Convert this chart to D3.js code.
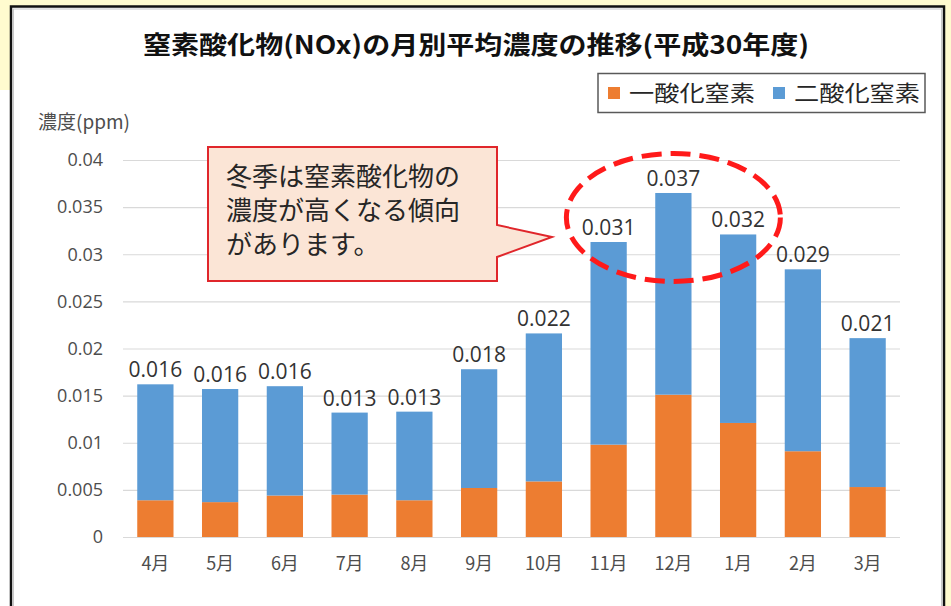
<!DOCTYPE html>
<html>
<head>
<meta charset="utf-8">
<script src="https://cdn.jsdelivr.net/npm/d3@7"></script>
<style>
body { margin: 0; background: #fff; }
text { font-family: "Noto Sans CJK JP", "Noto Sans", sans-serif; }
</style>
</head>
<body>
<svg width="951" height="606"></svg>
<script>
// data (ppm)
var months = ["4月", "5月", "6月", "7月", "8月", "9月", "10月", "11月", "12月", "1月", "2月", "3月"];
var noValues = [0.0039, 0.0037, 0.0044, 0.0045, 0.0039, 0.0052, 0.0059, 0.0098, 0.0151, 0.0121, 0.0091, 0.0053];
var no2Values = [0.0123, 0.0120, 0.0116, 0.0087, 0.0094, 0.0126, 0.0157, 0.0215, 0.0214, 0.0200, 0.0193, 0.0158];
var totalLabels = ["0.016", "0.016", "0.016", "0.013", "0.013", "0.018", "0.022", "0.031", "0.037", "0.032", "0.029", "0.021"];
var seriesNames = ["一酸化窒素", "二酸化窒素"];
var yTicks = [0, 0.005, 0.01, 0.015, 0.02, 0.025, 0.03, 0.035, 0.04];
var yTickLabels = ["0", "0.005", "0.01", "0.015", "0.02", "0.025", "0.03", "0.035", "0.04"];
var calloutLines = ["冬季は窒素酸化物の", "濃度が高くなる傾向", "があります。"];

var svg = d3.select("svg");
var colors = d3.scaleOrdinal().domain(seriesNames).range(["#ED7D31", "#5B9BD5"]);

// page frame: yellow page behind a white bordered box
svg.append("rect").attr("x", 0).attr("y", 0).attr("width", 951).attr("height", 90).attr("fill", "#fffbcf");
svg.append("rect").attr("x", 940).attr("y", 0).attr("width", 11).attr("height", 606).attr("fill", "#fffbcf");
svg.append("rect").attr("x", 11).attr("y", 6.5).attr("width", 933).attr("height", 700)
    .attr("fill", "#fff").attr("stroke", "#111").attr("stroke-width", 2.5);
svg.append("rect").attr("x", 13.5).attr("y", 9).attr("width", 928).attr("height", 700)
    .attr("fill", "none").attr("stroke", "#c8c8c8").attr("stroke-width", 1);

var margin = {top: 160, left: 123, right: 51, bottom: 69},
    width = 951 - margin.left - margin.right,
    height = 606 - margin.top - margin.bottom;
var g = svg.append("g").attr("transform", "translate(" + margin.left + "," + margin.top + ")");

var x = d3.scaleBand().domain(months).range([0, width]).paddingInner(0.44).paddingOuter(0.22);
var y = d3.scaleLinear().domain([0, 0.04]).range([height, 0]);

// title
svg.append("text")
    .attr("x", 476).attr("y", 54)
    .attr("text-anchor", "middle")
    .attr("font-size", 25).attr("font-weight", "bold").attr("fill", "#111")
    .attr("textLength", 666).attr("lengthAdjust", "spacingAndGlyphs")
    .text("窒素酸化物(NOx)の月別平均濃度の推移(平成30年度)");

// gridlines
g.append("g")
    .call(d3.axisLeft(y).tickValues(yTicks).tickSize(-width).tickFormat(""))
    .call(function(s) { s.select(".domain").remove(); })
    .selectAll("line").attr("stroke", "#d9d9d9").attr("stroke-width", 1.2);

// y axis labels
g.append("g")
    .call(d3.axisLeft(y).tickValues(yTicks).tickSize(0).tickPadding(20)
        .tickFormat(function(d, i) { return yTickLabels[i]; }))
    .call(function(s) { s.select(".domain").remove(); })
    .selectAll("text")
    .attr("font-size", 18).attr("fill", "#4d4d4d")
    .style("font-family", "'Open Sans', 'Noto Sans', sans-serif");

svg.append("text")
    .attr("x", 38).attr("y", 129)
    .attr("font-size", 19).attr("fill", "#4d4d4d")
    .text("濃度(ppm)");

// stacked bars
var rows = months.map(function(m, i) {
  var r = {month: m};
  r[seriesNames[0]] = noValues[i];
  r[seriesNames[1]] = no2Values[i];
  return r;
});
var stacked = d3.stack().keys(seriesNames)(rows);

g.append("g")
  .selectAll("g")
  .data(stacked)
  .enter().append("g")
    .attr("fill", function(d) { return colors(d.key); })
  .selectAll("rect")
  .data(function(d) { return d; })
  .enter().append("rect")
    .attr("x", function(d) { return x(d.data.month); })
    .attr("y", function(d) { return y(d[1]); })
    .attr("width", x.bandwidth())
    .attr("height", function(d) { return y(d[0]) - y(d[1]); });

// total labels
g.append("g")
  .selectAll("text")
  .data(rows)
  .enter().append("text")
    .attr("x", function(d) { return x(d.month) + x.bandwidth() / 2; })
    .attr("y", function(d) { return y(d[seriesNames[0]] + d[seriesNames[1]]) - 7; })
    .attr("text-anchor", "middle")
    .attr("font-size", 21).attr("fill", "#333")
    .style("font-family", "'Open Sans', 'Noto Sans', sans-serif")
    .text(function(d, i) { return totalLabels[i]; });

// x axis
g.append("g")
    .attr("transform", "translate(0," + height + ")")
    .call(d3.axisBottom(x).tickSize(0).tickPadding(20))
    .call(function(s) { s.select(".domain").remove(); })
    .selectAll("text")
    .attr("font-size", 18).attr("fill", "#4d4d4d");

// legend
svg.append("rect").attr("x", 598).attr("y", 73.5).attr("width", 327).attr("height", 39)
    .attr("fill", "#fff").attr("stroke", "#595959").attr("stroke-width", 1.5);
var legend = svg.append("g")
  .selectAll("g")
  .data(seriesNames)
  .enter().append("g")
    .attr("transform", function(d, i) { return "translate(" + (608 + i * 165) + ",93)"; });
legend.append("rect")
    .attr("x", 0).attr("y", -6).attr("width", 12).attr("height", 12)
    .attr("fill", colors);
legend.append("text")
    .attr("x", 21).attr("y", 8)
    .attr("font-size", 22).attr("fill", "#262626")
    .attr("textLength", 126).attr("lengthAdjust", "spacingAndGlyphs")
    .text(function(d) { return d; });

// callout
var callout = svg.append("g");
callout.append("path")
    .attr("d", "M208,147 L497,147 L497,225 L552,237 L497,257 L497,281 L208,281 Z")
    .attr("fill", "#fbe5d6").attr("stroke", "#e0262b").attr("stroke-width", 2);
callout.selectAll("text")
  .data(calloutLines)
  .enter().append("text")
    .attr("x", 226)
    .attr("y", function(d, i) { return 186 + i * 34; })
    .attr("font-size", 26).attr("fill", "#262626")
    .text(function(d) { return d; });

// dashed ellipse round the winter peak
svg.append("ellipse")
    .attr("cx", margin.left + x("12月") + x.bandwidth() / 2)
    .attr("cy", 217.5)
    .attr("rx", 107).attr("ry", 64)
    .attr("fill", "none").attr("stroke", "#ff1a1a").attr("stroke-width", 5)
    .attr("stroke-dasharray", "20,9");
</script>
</body>
</html>
